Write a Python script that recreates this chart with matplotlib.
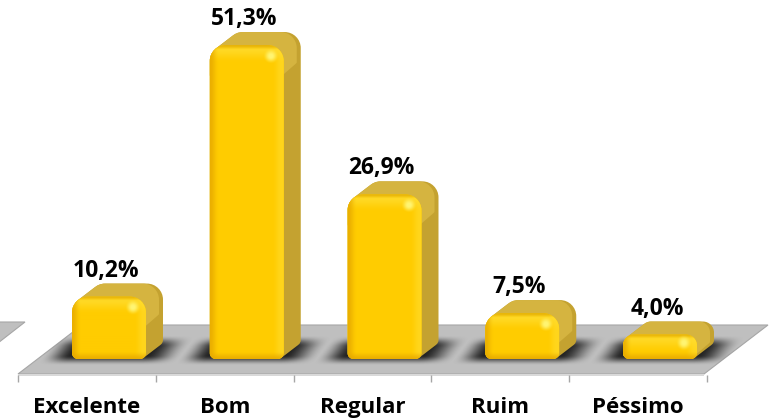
import numpy as np
import matplotlib
matplotlib.use("Agg")
import matplotlib.pyplot as plt
from matplotlib.patches import PathPatch, Polygon
from matplotlib.path import Path

categories = ["Excelente", "Bom", "Regular", "Ruim", "Péssimo"]
values = [10.2, 51.3, 26.9, 7.5, 4.0]
value_labels = ["10,2%", "51,3%", "26,9%", "7,5%", "4,0%"]

W, H = 775, 419
# pixels per category and per percent
SX, SY = 137.75, 6.12
X0, Y0 = 109, 359

plt.rcParams["font.family"] = ["Open Sans", "DejaVu Sans"]
fig = plt.figure(figsize=(W / 100, H / 100), dpi=100)
ax = fig.add_axes([0, 0, 1, 1])
xlim = (-X0 / SX, (W - X0) / SX)
ylim = ((Y0 - H) / SY, Y0 / SY)


def dx(p):
    return p / SX


def dy(p):
    return p / SY


def fx(px):
    return (px - X0) / SX


def fy(py):
    return (Y0 - py) / SY


def rrect(x0, x1, y0, y1, r, rb):
    # rounded box in data units, r and rb in pixels (top and bottom corners)
    k = 0.45
    rx, ry = dx(r), dy(r)
    bx, by = dx(rb), dy(rb)
    v = [(x0 + bx, y0), (x1 - bx, y0),
         (x1 - bx * k, y0), (x1, y0 + by * k), (x1, y0 + by),
         (x1, y1 - ry),
         (x1, y1 - ry * k), (x1 - rx * k, y1), (x1 - rx, y1),
         (x0 + rx, y1),
         (x0 + rx * k, y1), (x0, y1 - ry * k), (x0, y1 - ry),
         (x0, y0 + by),
         (x0, y0 + by * k), (x0 + bx * k, y0), (x0 + bx, y0), (x0 + bx, y0)]
    c = [Path.MOVETO, Path.LINETO,
         Path.CURVE4, Path.CURVE4, Path.CURVE4,
         Path.LINETO,
         Path.CURVE4, Path.CURVE4, Path.CURVE4,
         Path.LINETO,
         Path.CURVE4, Path.CURVE4, Path.CURVE4,
         Path.LINETO,
         Path.CURVE4, Path.CURVE4, Path.CURVE4, Path.CLOSEPOLY]
    return Path(v, c)


def hull(paths):
    # convex outline of several rounded boxes, worked out in pixel scale
    scaled = [Path(p.vertices * [SX, SY], p.codes) for p in paths]
    pts = np.vstack([p.to_polygons(closed_only=False)[0] for p in scaled])
    pts = sorted(set((round(a, 3), round(b, 3)) for a, b in pts))

    def half_hull(seq):
        out = []
        for q in seq:
            while len(out) > 1 and ((out[-1][0] - out[-2][0]) * (q[1] - out[-2][1])
                                    - (out[-1][1] - out[-2][1]) * (q[0] - out[-2][0])) <= 0:
                out.pop()
            out.append(q)
        return out[:-1]

    h = half_hull(pts) + half_hull(pts[::-1])
    return [(a / SX, b / SY) for a, b in h]


def ramp(a, e0, e1):
    t = np.clip((a - e0) / (e1 - e0), 0, 1)
    return t * t * (3 - 2 * t)


# floor
floor = Polygon([(fx(18), fy(374)), (fx(704), fy(374)), (fx(768), fy(325)), (fx(82), fy(325))],
                closed=True, facecolor="#BFBFBF", edgecolor="#A6A6A6", lw=0.8, zorder=1)
ax.add_patch(floor)
ax.add_patch(Polygon([(fx(-2), fy(322)), (fx(25), fy(322)), (fx(-2), fy(343))],
                     closed=True, facecolor="#BFBFBF", edgecolor="#A6A6A6", lw=0.8, zorder=1))
ax.add_patch(Polygon([(fx(18), fy(374)), (fx(704), fy(374)), (fx(704), fy(376)), (fx(18), fy(376))],
                     closed=True, facecolor="#D9D9D9", edgecolor="none", zorder=1))

# soft shadows on the floor
yy, xx = np.mgrid[0:H, 0:W]
for i, v in enumerate(values):
    cx = X0 + SX * i
    u = xx - cx + (yy - 362) * 0.75
    a = ramp(u, -72, -42) * (1 - ramp(u, 32, 68)) * ramp(yy, 335, 346) * (1 - ramp(yy, 355, 365))
    rgba = np.zeros((H, W, 4))
    rgba[..., :3] = 0.1
    rgba[..., 3] = a * 0.95
    im = ax.imshow(rgba, extent=(xlim[0], xlim[1], ylim[0], ylim[1]), origin="upper",
                   aspect="auto", zorder=2, interpolation="bilinear")
    im.set_clip_path(floor)

# bars
half = 37
ox, oy = 17, 13
for i, v in enumerate(values):
    x0, x1 = i - dx(half), i + dx(half)
    h = v * SY
    r = min(16, h * 0.45)
    rb = 6
    z = 3 + i

    back = rrect(x0 + dx(ox), x1 + dx(ox), dy(oy), v + dy(oy), r, rb)
    front = rrect(x0, x1, 0, v, r, rb)

    # side: outline around the front and back faces
    ax.add_patch(Polygon(hull([front, back]), closed=True, facecolor="#C4A230",
                         edgecolor="none", zorder=z))

    # top face, lighter than the side
    strip = 2 * r
    top_f = rrect(x0, x1 - dx(2), v - dy(strip), v, r, 2)
    top_b = rrect(x0 + dx(ox), x1 + dx(ox) - dx(4), v + dy(oy) - dy(strip), v + dy(oy), r, 2)
    ax.add_patch(Polygon(hull([top_f, top_b]), closed=True, facecolor="#D5B440",
                         edgecolor="none", zorder=z))

    # front face shading
    pw, ph = 2 * half, max(int(round(h)), 2)
    py, px = np.mgrid[0:ph, 0:pw]
    px = px + 0.5
    py = py + 0.5
    shade = np.ones((ph, pw, 3)) * np.array([1.0, 0.80, 0.0])
    rim_l = 1 - ramp(px, 0, 9)
    rim_b = 1 - ramp(ph - py, 0, 8)
    rim_t = 1 - ramp(py, 0, 5)
    glow = (1 - ramp(py, 2, 18)) * (1 - rim_t)
    rim_r = ramp(px, pw - 12, pw - 2)
    dark = np.array([0.90, 0.66, 0.0])
    light = np.array([1.0, 0.87, 0.2])
    for mask, col in [(glow * 0.8, light), (rim_r * 0.55, light), (rim_l * 0.8, dark),
                      (rim_b * 0.8, dark), (rim_t * 0.8, np.array([0.88, 0.68, 0.05]))]:
        shade = shade * (1 - mask[..., None]) + col * mask[..., None]
    # highlight at the top right corner
    d = np.hypot(px - (pw - 13), py - min(11, ph * 0.35))
    spot = (1 - ramp(d, 1, 8))[..., None]
    shade = shade * (1 - spot) + np.array([1.0, 0.96, 0.45]) * spot

    fp = PathPatch(front, facecolor="#FFCC00", edgecolor="none", zorder=z + 0.1)
    ax.add_patch(fp)
    im = ax.imshow(shade, extent=(x0, x1, 0, v), origin="upper", aspect="auto",
                   zorder=z + 0.2, interpolation="bilinear")
    im.set_clip_path(fp)

    ax.text(i - dx(3), v + dy(26), value_labels[i], ha="center", va="center",
            fontsize=16.5, fontweight="bold", color="black", zorder=20)
    ax.text(i - dx(22), fy(407), categories[i], ha="center", va="center",
            fontsize=16, fontweight="bold", color="black", zorder=20)

ax.set_xlim(xlim)
ax.set_ylim(ylim)
ax.patch.set_alpha(0)
for s in ["top", "left", "right", "bottom"]:
    ax.spines[s].set_visible(False)
ax.set_yticks([])
ax.set_xticks(np.arange(len(values) + 1) + fx(18))
ax.set_xticklabels([])
ax.xaxis.set_ticks_position("bottom")
ax.tick_params(axis="x", direction="out", length=5, width=1, color="#A6A6A6")
ax.spines["bottom"].set_position(("data", fy(375)))

fig.savefig("out.png", dpi=100, facecolor="white")
